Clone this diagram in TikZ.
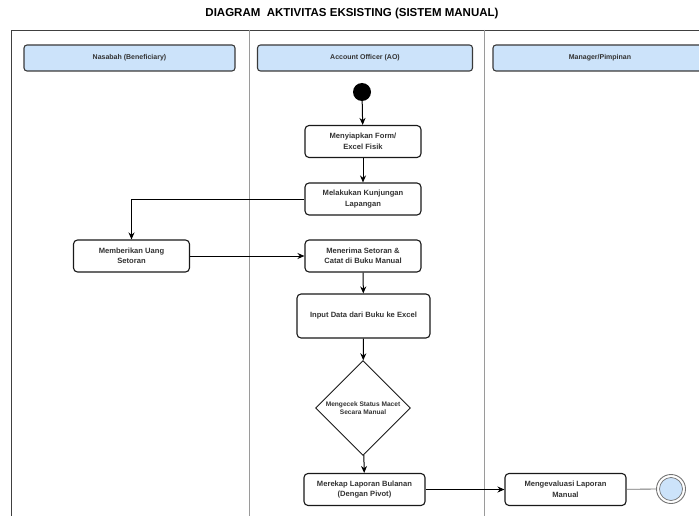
\documentclass[tikz,border=0pt]{standalone}
\usepackage{fontspec}
\setmainfont{Liberation Sans}
\usepackage{tikz}
\usepackage{xcolor}
\usetikzlibrary{arrows.meta,shapes.geometric}

\definecolor{lanefill}{HTML}{CCE3FA}
\definecolor{laneline}{HTML}{3A3A3A}
\definecolor{divline}{HTML}{9A9A9A}

\tikzset{
  lanehead/.style={draw=laneline,line width=1.1pt,rounded corners=3pt,fill=lanefill,
    minimum height=26pt,font=\fontsize{7}{8}\selectfont\bfseries,text=black!80},
  act/.style={draw=black!90,line width=1.1pt,rounded corners=4pt,fill=white,
    minimum width=116pt,minimum height=32pt,align=center,
    font=\fontsize{7.6}{10.5}\selectfont\bfseries,text=black!80},
  decide/.style={draw=black!90,line width=0.9pt,diamond,minimum width=95pt,minimum height=95pt,
    inner sep=0pt,align=center,font=\fontsize{6.6}{8}\selectfont\bfseries,text=black!80},
  flow/.style={->,line width=1pt,black}
}

\begin{document}
\begin{tikzpicture}[x=1pt,y=-1pt,>={Stealth[length=7pt,width=6pt]}]
        \useasboundingbox (0,0) rectangle (699,516);

        % frame and lanes
        \draw[line width=0.8pt,black!75] (11,516) -- (11,30) -- (699,30);
        \draw[line width=0.8pt,divline] (249,30) -- (249,516);
        \draw[line width=0.8pt,divline] (484,30) -- (484,516);

        \node (title) at (352,14) {\fontsize{11.5}{13}\selectfont\bfseries DIAGRAM\ \ AKTIVITAS EKSISTING (SISTEM MANUAL)};

        \node[lanehead,minimum width=211pt] (nasabah) at (129.5,58) {Nasabah (Beneficiary)};
        \node[lanehead,minimum width=215pt] (ao) at (365,58) {Account Officer (AO)};
        \node[lanehead,minimum width=214pt] (mgr) at (600,58) {Manager/Pimpinan};

        % activities
        \node[circle,fill=black,minimum size=18pt,inner sep=0pt] (start) at (362,92) {};
        \node[act] (form) at (363,141.5) {Menyiapkan Form/\\Excel Fisik};
        \node[act] (visit) at (363,199) {Melakukan Kunjungan\\Lapangan};
        \node[act] (give) at (131.5,256) {Memberikan Uang\\Setoran};
        \node[act] (recv) at (363,256) {Menerima Setoran \&\\Catat di Buku Manual};
        \node[act,minimum width=133pt,minimum height=44pt] (input) at (363.5,316) {Input Data dari Buku ke Excel};
        \node[decide] (check) at (363,408) {Mengecek Status Macet\\Secara Manual};
        \node[act,minimum width=121pt] (recap) at (364.5,489.5) {Merekap Laporan Bulanan\\(Dengan Pivot)};
        \node[act,minimum width=121pt] (eval) at (565.5,489.5) {Mengevaluasi Laporan\\Manual};

        \node[circle,draw=black!55,line width=0.9pt,minimum size=29pt,inner sep=0pt] (end) at (671,489) {};
        \node[circle,draw=black!55,line width=0.7pt,fill=lanefill,minimum size=23pt,inner sep=0pt] (endin) at (end) {};

        % flow
        \draw[flow] (start) -- (form);
        \draw[flow] (form) -- (visit);
        \draw[flow] (visit.west) -| (give.north);
        \draw[flow] (give) -- (recv);
        \draw[flow] (recv) -- (input);
        \draw[flow] (input) -- (check);
        \draw[flow] (check) -- (recap);
        \draw[flow] (recap) -- (eval);
        \draw[line width=0.8pt,black!55] (eval) -- (end);
    \end{tikzpicture}
\end{document}
